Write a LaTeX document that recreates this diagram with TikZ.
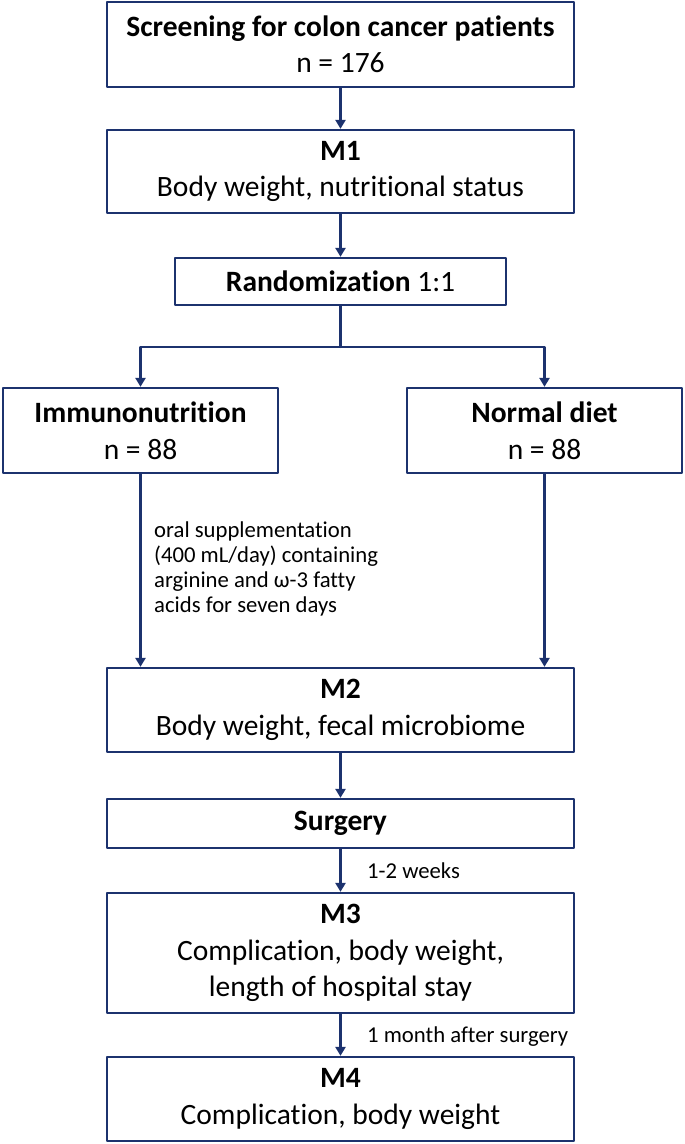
\documentclass[tikz,border=0pt]{standalone}
\usepackage{fontspec}
\setmainfont{Carlito}[Ligatures={NoCommon,NoContextual}]
\usepackage{tikz}
\usetikzlibrary{arrows.meta}
\definecolor{flownavy}{RGB}{28,50,110}

\begin{document}
\begin{tikzpicture}[line cap=round,line join=round,>={Triangle[length=9pt,width=10pt]},x=1pt,y=-1pt,
    box/.style={draw=flownavy,line width=2.3pt,align=center,inner sep=0pt,minimum width=467pt,font=\fontsize{29.5}{36.5}\selectfont},
    armbox/.style={box,minimum width=275pt,minimum height=85pt},
    note/.style={align=left,inner sep=0pt,font=\fontsize{22.7}{25}\selectfont},
    flow/.style={->,draw=flownavy,line width=2.3pt}]
  \useasboundingbox (0,0) rectangle (685,1144);
  % boxes
  \node[box,minimum height=85pt] (screen) at (340.5,44.5) {\textbf{Screening for colon cancer patients}\\n = 176};
  \node[box,minimum height=83pt] (mone) at (340.5,171.5) {\textbf{M1}\\Body weight, nutritional status};
  \node[box,minimum width=331pt,minimum height=47pt] (rand) at (340.5,281.5) {\textbf{Randomization} 1:1};
  \node[armbox] (immuno) at (140.5,430.5) {\textbf{Immunonutrition}\\n = 88};
  \node[armbox] (normal) at (544.5,430.5) {\textbf{Normal diet}\\n = 88};
  \node[box,minimum height=84pt] (mtwo) at (340.5,710) {\textbf{M2}\\Body weight, fecal microbiome};
  \node[box,minimum height=49pt] (surgery) at (340.5,823.5) {\textbf{Surgery}};
  \node[box,minimum height=120pt] (mthree) at (340.5,953) {\textbf{M3}\\Complication, body weight,\\length of hospital stay};
  \node[box,minimum height=84pt] (mfour) at (340.5,1099) {\textbf{M4}\\Complication, body weight};
  % notes beside the arrows
  \node[note,anchor=west] (oral) at (154,568.5) {oral supplementation\\(400 mL/day) containing\\arginine and ω-3 fatty\\acids for seven days};
  \node[note,anchor=west] (weeks) at (367,871) {1-2 weeks};
  \node[note,anchor=west] (month) at (367,1037) {1 month after surgery};
  % connectors
  \coordinate (split) at (340.5,347);
  \draw[flow] (screen) -- (mone);
  \draw[flow] (mone) -- (rand);
  \draw[flow,-] (rand) -- (split);
  \draw[flow] (split) -| (immuno.north);
  \draw[flow] (split) -| (normal.north);
  \draw[flow] (immuno) -- (immuno |- mtwo.north);
  \draw[flow] (normal) -- (normal |- mtwo.north);
  \draw[flow] (mtwo) -- (surgery);
  \draw[flow] (surgery) -- (mthree);
  \draw[flow] (mthree) -- (mfour);
\end{tikzpicture}
\end{document}
